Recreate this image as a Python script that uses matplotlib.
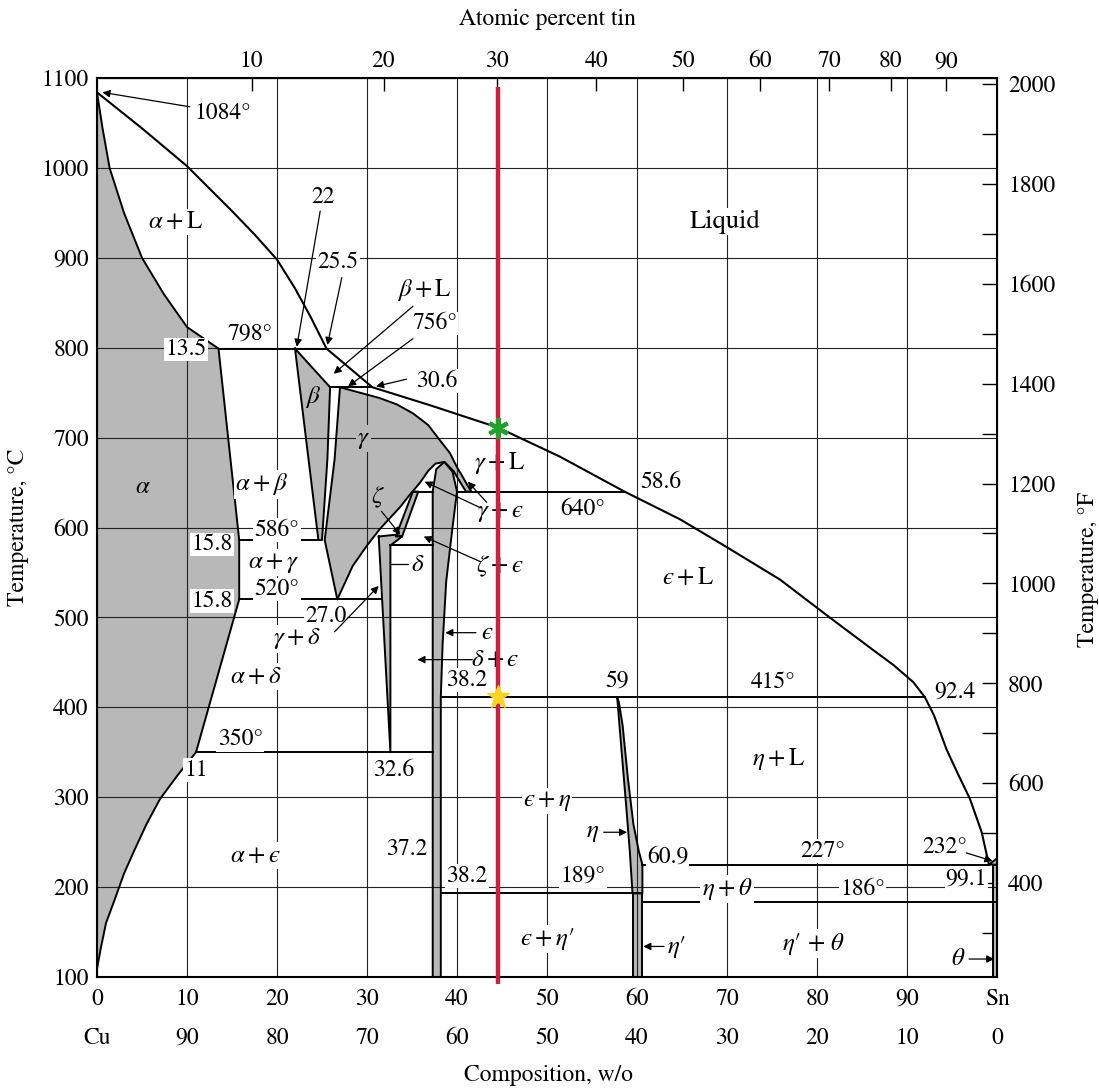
import numpy as np
import matplotlib
matplotlib.use('Agg')
import matplotlib.pyplot as plt

plt.rcParams['font.family'] = ['STIXGeneral', 'DejaVu Sans']
plt.rcParams['mathtext.fontset'] = 'stix'

#------------------------- phase boundaries (wt% Sn, deg C) -------------------------
liq_wt = [0, 5, 10, 15, 17.5, 20, 22, 23.8, 25.5, 30.6, 37.0, 44.6, 51.4, 58.6, 64.8,
          70.0, 75.9, 81.4, 86.2, 88.5, 90.7, 92.0, 93.0, 94.4, 95.7, 97.0, 98.3, 99.1]
liq_T = [1084, 1044, 1002, 952, 926, 898, 866, 833, 799, 756, 736, 711, 679, 640, 609,
         578, 542, 500, 464, 447, 428, 411, 391, 353, 325, 298, 261, 225]

alpha_wt = [0, 0.6, 1.4, 3.0, 5.0, 7.4, 10.0, 13.5, 15.8, 15.8, 11.0, 9.0, 7.0, 5.5,
            4.2, 3.0, 2.0, 1.0, 0.4, 0]
alpha_T = [1084, 1045, 1000, 950, 900, 860, 823, 799, 586, 520, 350, 325, 298, 270,
           242, 215, 187, 160, 131, 109]

beta_wt = [22.0, 25.9, 25.6, 25.0, 24.6]
beta_T = [799, 756, 676, 586, 586]

gamma_wt = [27.0, 31.4, 33.3, 35.1, 36.8, 38.1, 39.2, 40.0, 40.6, 41.1, 41.6, 41.0,
            40.5, 39.6, 38.6, 37.6, 36.8, 35.9, 34.8, 33.7, 31.4, 30.0, 28.4, 26.7,
            25.3, 26.4]
gamma_T = [756, 744, 737, 727, 714, 697, 683, 667, 657, 648, 640, 640,
           648, 663, 673, 671, 663, 650, 637, 623, 598, 580, 557, 520,
           586, 676]

eps_wt = [37.3, 37.3, 37.7, 38.6, 39.5, 40.0, 39.5, 38.8, 38.4, 38.2, 38.2]
eps_T = [100, 640, 665, 673, 662, 640, 600, 540, 470, 411, 100]

zeta_wt = [35.1, 35.7, 33.9, 33.2]
zeta_T = [640, 640, 590, 590]

delta_wt = [31.3, 33.2, 33.9, 32.6, 32.6]
delta_T = [590, 592, 590, 580, 350]

eta_wt = [57.8, 58.3, 58.8, 59.2, 59.5, 60.6, 60.6, 60.2, 59.6, 59.0, 58.4, 58.0]
eta_T = [411, 350, 290, 240, 193, 193, 225, 240, 270, 320, 380, 405]

etap_wt = [59.5, 59.5, 60.6, 60.6]
etap_T = [100, 193, 193, 100]

theta_wt = [99.6, 99.6, 100, 100]
theta_T = [100, 225, 225, 100]

sn_wt = [99.1, 100, 100]
sn_T = [225, 232, 225]

# isotherms: (wt from, wt to, T)
isotherms = [(13.5, 25.5, 799), (25.9, 30.6, 756), (15.8, 24.6, 586), (15.8, 31.7, 520),
             (35.1, 37.3, 640), (40.0, 58.6, 640), (32.6, 37.3, 580), (11.0, 37.3, 350),
             (38.2, 92.0, 411), (38.2, 59.5, 193), (60.6, 99.1, 225), (60.6, 100, 183)]

alloy_wt = 44.6
liq_point_T = 711
eutectic_point_T = 411

bottom_row1 = ['0', '10', '20', '30', '40', '50', '60', '70', '80', '90', 'Sn']
bottom_row2 = ['Cu', '90', '80', '70', '60', '50', '40', '30', '20', '10', '0']
at_ticks = [10, 20, 30, 40, 50, 60, 70, 80, 90]


def wt_to_at(w):
    w = np.asarray(w, dtype=float)
    a = w / 118.71
    b = (100 - w) / 63.546
    with np.errstate(all='ignore'):
        return 100 * a / (a + b)


def at_to_wt(a):
    a = np.asarray(a, dtype=float)
    m = a * 118.71
    n = (100 - a) * 63.546
    with np.errstate(all='ignore'):
        return 100 * m / (m + n)


GRAY = '#b8b8b8'

fig = plt.figure(figsize=(10.99, 10.88), dpi=100)
ax = fig.add_axes([97 / 1099, 1 - 977 / 1088, 900 / 1099, 899 / 1088])
ax.set_xlim(0, 100)
ax.set_ylim(100, 1100)


def phase(wt, T):
    ax.fill(wt, T, color=GRAY, lw=0, zorder=0.8)
    ax.plot(list(wt) + [wt[0]], list(T) + [T[0]], color='k', lw=1.4, zorder=2)


for w, t in [(alpha_wt, alpha_T), (beta_wt, beta_T), (gamma_wt, gamma_T),
             (eps_wt, eps_T), (zeta_wt, zeta_T), (delta_wt, delta_T),
             (eta_wt, eta_T), (etap_wt, etap_T), (theta_wt, theta_T), (sn_wt, sn_T)]:
    phase(w, t)

ax.plot(liq_wt, liq_T, color='k', lw=1.5, zorder=2)
for w0, w1, t in isotherms:
    ax.plot([w0, w1], [t, t], color='k', lw=1.4, zorder=2)

# grid
ax.set_xticks(np.arange(0, 101, 10))
ax.set_yticks(np.arange(100, 1101, 100))
ax.grid(True, color='#222222', lw=0.8)
ax.set_axisbelow('line')
for s in ax.spines.values():
    s.set_linewidth(1.5)

ax.set_xticklabels(bottom_row1)
ax.tick_params(axis='both', length=0, labelsize=17)
ax.tick_params(axis='x', pad=8)
ax.tick_params(axis='y', pad=6)
for x, s in zip(np.arange(0, 101, 10), bottom_row2):
    ax.text(x, -0.068, s, transform=ax.get_xaxis_transform(), ha='center',
            va='center', fontsize=17)
ax.set_ylabel('Temperature, °C', fontsize=17, labelpad=9)
fig.text(548 / 1099, 1 - 1075 / 1088, 'Composition, w/o', ha='center',
         va='center', fontsize=17)

# top axis: atomic percent
top = ax.secondary_xaxis('top', functions=(wt_to_at, at_to_wt))
top.set_xticks(at_ticks)
top.tick_params(direction='in', length=9, width=1, labelsize=17, pad=4)
top.set_xlabel('Atomic percent tin', fontsize=17, labelpad=19)

# right axis: Fahrenheit
right = ax.secondary_yaxis('right', functions=(lambda c: c * 9 / 5 + 32,
                                               lambda f: (f - 32) * 5 / 9))
right.set_yticks(np.arange(400, 2001, 200))
right.set_yticks(np.arange(300, 2001, 200), minor=True)
right.tick_params(which='both', direction='in', length=11, width=1,
                  labelsize=17, pad=8)
fig.text(1088 / 1099, 1 - 570 / 1088, 'Temperature, °F', rotation=90,
         ha='center', va='center', fontsize=17)


def lab(s, x, y, bg='white', size=17):
    ax.text(x, y, s, ha='center', va='center', fontsize=size, zorder=3,
            bbox=dict(boxstyle='square,pad=0.05', fc=bg, ec='none'))


def arrow(tail, head):
    ax.annotate('', xy=head, xytext=tail, zorder=3,
                arrowprops=dict(arrowstyle='-|>', color='k', lw=0.9,
                                mutation_scale=11, shrinkA=0, shrinkB=0))


lab('1084°', 14.0, 1061)
arrow((10.3, 1068), (0.6, 1084))
lab(r'$\alpha + \mathrm{L}$', 8.7, 940, size=18)
lab('Liquid', 69.8, 940, size=19)
lab('22', 25.1, 967)
arrow((24.8, 952), (22.2, 801))
lab('25.5', 26.8, 895)
arrow((27.2, 878), (25.6, 803))
lab(r'$\beta + \mathrm{L}$', 36.4, 864, size=18)
arrow((35.1, 846), (26.3, 771))
lab('756°', 37.5, 827)
arrow((35.1, 810), (27.9, 757))
lab('30.6', 37.8, 763)
arrow((34.4, 765), (31.0, 757))
lab('798°', 17.0, 815)
lab('13.5', 9.9, 798)
lab(r'$\beta$', 24.0, 745, bg=GRAY, size=18)
lab(r'$\gamma$', 29.6, 699, bg=GRAY, size=18)
lab(r'$\alpha$', 5.1, 645, bg=GRAY, size=18)
lab(r'$\alpha + \beta$', 18.3, 648, size=18)
lab('586°', 20.0, 597)
lab('15.8', 12.8, 581)
lab(r'$\alpha + \gamma$', 19.6, 561, size=18)
lab('520°', 20.0, 531)
lab('15.8', 12.8, 518)
lab('27.0', 25.4, 501)
lab(r'$\zeta$', 31.2, 634, bg=GRAY, size=18)
arrow((31.6, 618), (33.7, 592))
lab(r'$\delta$', 35.6, 558, size=18)
ax.plot([32.7, 34.6], [559, 559], color='k', lw=0.9, zorder=3)
lab(r'$\gamma + \mathrm{L}$', 44.8, 672, size=18)
lab(r'$\gamma + ϵ$', 44.8, 617, size=18)
arrow((42.6, 622), (36.4, 651))
arrow((43.3, 628), (41.2, 651))
lab(r'$\zeta + ϵ$', 44.8, 557, size=18)
arrow((42.6, 562), (36.3, 590))
lab('640°', 54.0, 620)
lab('58.6', 62.6, 650)
lab(r'$ϵ + \mathrm{L}$', 65.7, 544, size=18)
lab(r'$ϵ$', 43.4, 483, size=18)
arrow((42.1, 483), (38.7, 483))
lab(r'$\delta + ϵ$', 44.2, 453, size=18)
arrow((41.7, 453), (35.6, 453))
lab('38.2', 41.1, 430)
lab('59', 57.8, 429)
lab('415°', 75.1, 428)
lab('92.4', 95.3, 417)
lab(r'$\eta + \mathrm{L}$', 75.7, 342, size=18)
lab(r'$\alpha + \delta$', 17.6, 434, size=18)
lab(r'$\gamma + \delta$', 22.2, 476, size=18)
arrow((26.4, 484), (31.3, 535))
lab('350°', 15.9, 364)
lab('11', 11.0, 330)
lab('32.6', 33.0, 330)
lab(r'$\alpha + ϵ$', 17.6, 235, size=18)
lab(r'$ϵ + \eta$', 50.0, 296, size=18)
lab(r'$\eta$', 55.1, 261, size=18)
arrow((56.3, 261), (58.9, 261))
lab('37.2', 34.4, 242)
lab('38.2', 41.1, 212)
lab('189°', 54.0, 212)
lab('60.9', 63.4, 234)
lab(r'$ϵ + \eta$′', 50.0, 142, size=18)
lab(r'$\eta$′', 64.4, 133, size=18)
arrow((63.0, 134), (60.7, 134))
lab('227°', 80.6, 240)
lab('232°', 94.2, 244)
arrow((96.6, 238), (99.5, 229))
lab('99.1', 96.6, 209)
lab(r'$\eta + \theta$', 70.0, 198, size=18)
lab('186°', 85.1, 198)
lab(r'$\eta$′ + $\theta$', 79.6, 137, size=18)
lab(r'$\theta$', 95.7, 120, size=18)
arrow((96.9, 120), (99.7, 120))

# highlighted alloy
ax.plot([alloy_wt, alloy_wt], [92, 1090], color='#d01f3e', lw=3.2, zorder=4,
        clip_on=False, solid_capstyle='butt')
ax.plot(alloy_wt, liq_point_T, marker=(6, 2, 0), ms=15, mew=3, color='#1fa32a',
        zorder=5)
ax.plot(alloy_wt, eutectic_point_T, marker='*', ms=17, color='#ffd21f', mec='#ffd21f',
        zorder=5)

fig.savefig('out.png', dpi=100)
